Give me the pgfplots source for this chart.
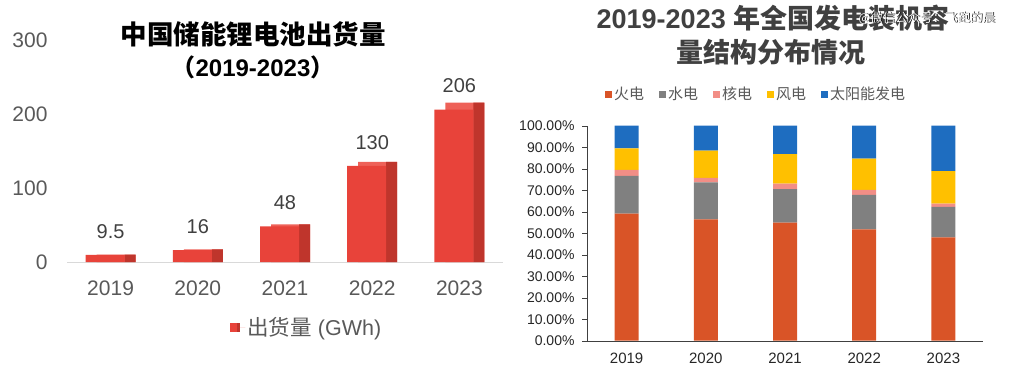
\documentclass[border=0pt]{standalone}
\usepackage{pgfplots}
\pgfplotsset{compat=1.18}
\usepackage{fontspec}
\setmainfont{Liberation Sans}
\newfontfamily\cjk{Noto Sans CJK SC}
\definecolor{bfront}{HTML}{E8433A}
\definecolor{bside}{HTML}{BF352C}
\definecolor{btop}{HTML}{EE6158}
\definecolor{fire}{HTML}{D95427}
\definecolor{hydro}{HTML}{808080}
\definecolor{nuke}{HTML}{F28E86}
\definecolor{wind}{HTML}{FFC000}
\definecolor{solar}{HTML}{1E6DC0}
\definecolor{lab}{HTML}{595959}
\definecolor{ttl}{HTML}{404040}
\begin{document}
\begin{tikzpicture}[x=1bp,y=1bp]
\useasboundingbox (0,0) rectangle (1015,388);
% ---------------- left chart ----------------
\begin{axis}[
  at={(67bp,126bp)}, anchor=south west,
  scale only axis, width=436bp, height=222bp,
  xmin=-0.5, xmax=4.5, ymin=0, ymax=300,
  ybar,
  axis x line=bottom, axis y line=left,
  axis line style={-},
  y axis line style={draw=none},
  x axis line style={draw=black!15},
  xtick={0,1,2,3,4}, xticklabels={2019,2020,2021,2022,2023},
  ytick={0,100,200,300},
  major tick length=0pt,
  /pgf/number format/assume math mode=true,
  tick label style={font=\fontsize{21bp}{24bp}\selectfont, text=lab},
  xticklabel style={yshift=-15bp},
  yticklabel style={xshift=-16bp},
  legend style={draw=none, fill=none, at={(0.55,-0.293)}, anchor=center,
    font=\fontsize{21.5bp}{25bp}\selectfont, text=lab},
  clip=false,
]
% back (top face) and side face: visible back-top heights
\addplot[ybar, bar width=39bp, bar shift=5.5bp, fill=btop, draw=none, forget plot]
  coordinates {(0,10) (1,17) (2,50.7) (3,135.4) (4,215.5)};
\addplot[ybar, bar width=11bp, bar shift=19.5bp, fill=bside, draw=none, forget plot]
  coordinates {(0,10) (1,17) (2,50.7) (3,135.4) (4,215.5)};
\addplot[ybar, bar width=39bp, bar shift=-5.5bp, fill=bfront, draw=none,
  legend image code/.code={\fill[bfront] (0bp,-5bp) rectangle (7bp,4bp); \fill[bside] (7bp,-5bp) rectangle (10bp,4bp); \path (0bp,0bp) -- (15bp,0bp);}]
  coordinates {(0,9.5) (1,16) (2,48) (3,130) (4,206)};
\addlegendentry{{\cjk 出货量} (GWh)}
\addplot[ybar, bar width=0bp, bar shift=0bp, draw=none, fill=none, forget plot,
  nodes near coords,
  every node near coord/.append style={anchor=south, yshift=13bp,
    font=\fontsize{20bp}{24bp}\selectfont, text=ttl}]
  coordinates {(0,9.5) (1,16) (2,48) (3,130) (4,206)};
\end{axis}
\node[font=\fontsize{26.5bp}{30bp}\selectfont\cjk\bfseries] at (253,354) {中国储能锂电池出货量};
\node[font=\fontsize{24bp}{28bp}\selectfont\bfseries] at (253,321) {{\cjk （}2019-2023{\cjk ）}};
% ---------------- right chart ----------------
\begin{axis}[
  at={(587bp,47.3bp)}, anchor=south west,
  scale only axis, width=396bp, height=215bp,
  xmin=-0.5, xmax=4.5, ymin=0, ymax=100,
  ybar stacked, bar width=24bp,
  axis x line=bottom, axis y line=left,
  axis line style={-, draw=black!75},
  tick align=outside,
  xtick={0,1,2,3,4}, xticklabels={2019,2020,2021,2022,2023},
  x tick style={draw=none},
  extra x ticks={-0.5,0.5,1.5,2.5,3.5,4.5}, extra x tick labels={},
  extra x tick style={major tick length=5bp, tick style={draw=black!75}},
  ytick={0,10,...,100},
  y tick style={draw=black!75}, major tick length=5bp,
  yticklabel={\pgfmathprintnumber[fixed,fixed zerofill,precision=2]{\tick}\%},
  /pgf/number format/assume math mode=true,
  tick label style={font=\fontsize{14bp}{16bp}\selectfont, text=black!85},
  yticklabel style={xshift=-4bp},
  xticklabel style={font=\fontsize{15bp}{17bp}\selectfont, yshift=-4bp},
  legend columns=5,
  legend style={draw=none, fill=none, at={(0.427,1.147)}, anchor=center,
    font=\fontsize{15bp}{18bp}\selectfont\cjk, text=lab,
    /tikz/every even column/.append style={column sep=13bp}},
  legend image code/.code={\fill[#1] (0bp,-3.5bp) rectangle (7bp,3.5bp);},
  clip=false,
]
\addplot[fill=fire, draw=none] coordinates {(0,59.1) (1,56.4) (2,54.9) (3,51.8) (4,48.1)};
\addlegendentry{火电}
\addplot[fill=hydro, draw=none] coordinates {(0,17.6) (1,17.2) (2,15.6) (3,16.0) (4,14.2)};
\addlegendentry{水电}
\addplot[fill=nuke, draw=none] coordinates {(0,2.7) (1,2.1) (2,2.5) (3,2.4) (4,1.4)};
\addlegendentry{核电}
\addplot[fill=wind, draw=none] coordinates {(0,10.1) (1,12.7) (2,13.8) (3,14.5) (4,15.2)};
\addlegendentry{风电}
\addplot[fill=solar, draw=none] coordinates {(0,10.5) (1,11.6) (2,13.2) (3,15.3) (4,21.1)};
\addlegendentry{太阳能发电}
\end{axis}
\node[font=\fontsize{27bp}{30bp}\selectfont\bfseries, text=ttl] at (773,370) {2019-2023 {\cjk 年全国发电装机容}};
\node[font=\fontsize{27bp}{30bp}\selectfont\cjk\bfseries, text=ttl] at (771,336) {量结构分布情况};
\node[font=\fontsize{12.5bp}{14bp}\selectfont\cjk, text=black] at (927.7,369.3) {@微信公众号：飞跑的晨};
\node[font=\fontsize{12.5bp}{14bp}\selectfont\cjk, text=white] at (927,370) {@微信公众号：飞跑的晨};
\end{tikzpicture}
\end{document}
